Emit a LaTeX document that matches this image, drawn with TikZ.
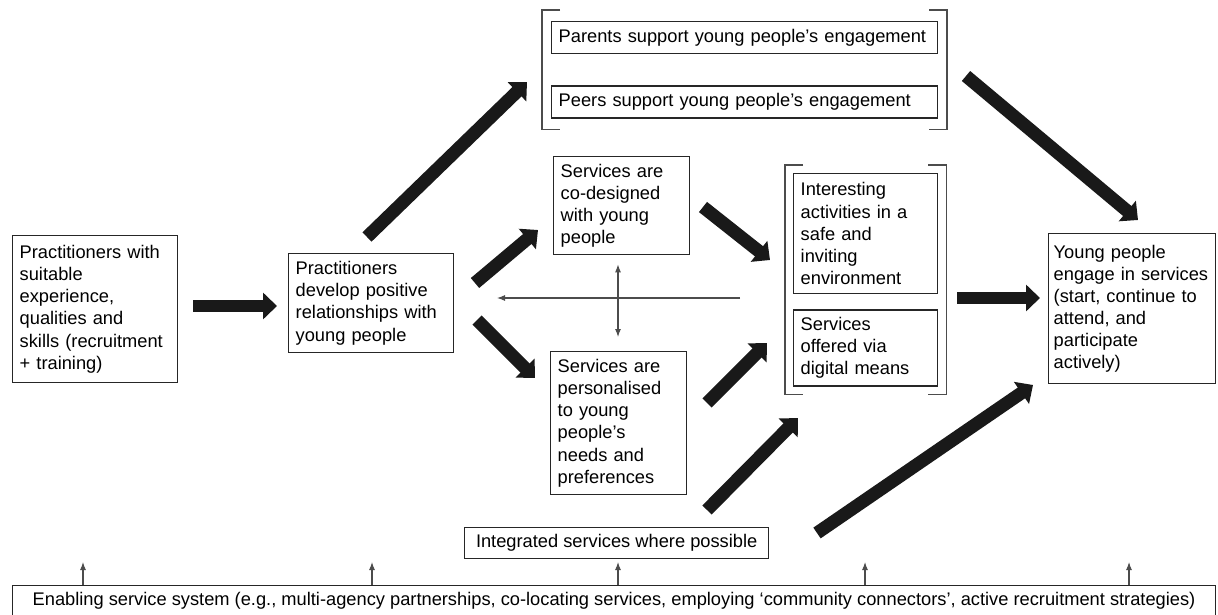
\documentclass[tikz,border=0pt]{standalone}
\usepackage{fontspec}
\setmainfont{Liberation Sans}
\usetikzlibrary{arrows.meta,positioning,fit}
\hyphenpenalty=10000

\begin{document}
\begin{tikzpicture}[x=0.02cm,y=-0.02cm,node distance=0.3cm]
\tikzstyle{box}=[draw=black!85,line width=0.8pt,rectangle,anchor=north west,inner sep=0.14cm,align=left,font=\fontsize{10.4pt}{12.6pt}\selectfont]
\tikzstyle{fat}=[line width=0.26cm,black!90,-{Triangle[length=0.28cm,width=0.52cm]}]
\tikzstyle{slim}=[line width=0.6pt,black!70,-{Latex[length=1.6mm,width=1.2mm]}]
\tikzstyle{brace}=[line width=0.8pt,black!70]
\useasboundingbox (0,0) rectangle (1218,615);

\node [box,text width=3.02cm,minimum height=2.94cm] (prac) at (12,235)
  {Practitioners with\\suitable\\experience,\\qualities and\\skills (recruitment\\+ training)};
\node [box,text width=3.02cm,minimum height=1.98cm] (dev) at (288,253)
  {Practitioners\\develop positive\\relationships with\\young people};
\node [box,text width=7.44cm,minimum height=0.64cm] (parents) at (551,21)
  {Parents support young people’s engagement};
\node [box,text width=7.44cm,minimum height=0.64cm,below=0.62cm of parents] (peers)
  {Peers support young people’s engagement};
\node [box,text width=2.44cm,minimum height=1.96cm] (codes) at (553,156)
  {Services are\\co-designed\\with young\\people};
\node [box,text width=2.44cm,minimum height=2.86cm] (pers) at (550,351)
  {Services are\\personalised\\to young\\people’s\\needs and\\preferences};
\node [box,text width=2.6cm,minimum height=2.4cm] (act) at (793,173)
  {Interesting\\activities in a\\safe and\\inviting\\environment};
\node [box,text width=2.6cm,minimum height=1.52cm,below=of act] (dig)
  {Services\\offered via\\digital means};
\node [box,text width=3.14cm,inner xsep=0.1cm,minimum height=3cm] (young) at (1048,233)
  {Young people\\engage in services\\(start, continue to\\attend, and\\participate\\actively)};
\node [box,align=center,minimum width=6.08cm,minimum height=0.52cm] (integ) at (464,527)
  {Integrated services where possible};
\node [box,align=center,minimum width=24.06cm,minimum height=0.56cm] (enab) at (12,585)
  {Enabling service system (e.g., multi-agency partnerships, co-locating services, employing ‘community connectors’, active recruitment strategies)};

% brackets round the two groups
\node [fit=(parents)(peers),inner xsep=0.17cm,inner ysep=0.21cm] (grp1) {};
\node [fit=(act)(dig),inner sep=0.15cm] (grp2) {};
\draw[brace] (grp1.north west) ++(18,0) -- (grp1.north west) -- (grp1.south west) -- ++(18,0);
\draw[brace] (grp1.north east) ++(-18,0) -- (grp1.north east) -- (grp1.south east) -- ++(-18,0);
\draw[brace] (grp2.north west) ++(18,0) -- (grp2.north west) -- (grp2.south west) -- ++(18,0);
\draw[brace] (grp2.north east) ++(-18,0) -- (grp2.north east) -- (grp2.south east) -- ++(-18,0);

% ends of the thick arrows
\coordinate (a1) at (193,306);  \coordinate (b1) at (277,306);
\coordinate (a2) at (367,237);  \coordinate (b2) at (527,82);
\coordinate (a3) at (475,283);  \coordinate (b3) at (538,230);
\coordinate (a4) at (477,320);  \coordinate (b4) at (535,378);
\coordinate (a5) at (703,207);  \coordinate (b5) at (770,260);
\coordinate (a6) at (707,403);  \coordinate (b6) at (767,343);
\coordinate (a7) at (707,510);  \coordinate (b7) at (798,418);
\coordinate (a8) at (817,533);  \coordinate (b8) at (1033,385);
\coordinate (a9) at (966,76);   \coordinate (b9) at (1138,220);
\coordinate (a10) at (957,298); \coordinate (b10) at (1040,298);
\foreach \i in {1,...,10}
  \draw[fat] (a\i) -- (b\i);

% thin arrows
\coordinate (h1) at (740,298);  \coordinate (h2) at (497,298);
\draw[slim] (h1) -- (h2);
\draw[slim,{Latex[length=1.6mm,width=1.2mm]}-{Latex[length=1.6mm,width=1.2mm]}]
  ([yshift=-0.18cm]codes.south -| 618,0) -- ([yshift=0.28cm]pers.north -| 618,0);
\foreach \x in {83,372,618,865,1129}
  \draw[slim] (enab.north -| \x,0) -- (\x,562);
\end{tikzpicture}
\end{document}
